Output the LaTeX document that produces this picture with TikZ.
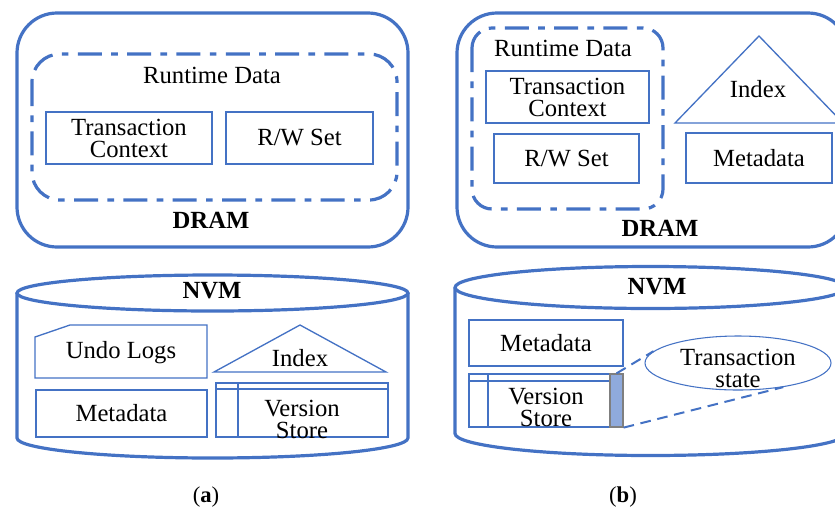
\documentclass[tikz,border=0pt]{standalone}
\usepackage{fontspec}
\setmainfont{Liberation Serif}
\usetikzlibrary{shapes.geometric}
\definecolor{ublue}{HTML}{4472C4}
\definecolor{barfill}{HTML}{8FAADC}
\definecolor{bargray}{HTML}{7F7F7F}
\begin{document}
\begin{tikzpicture}[x=0.75pt,y=-0.75pt,
  outer/.style={draw=ublue,line width=2.4pt,rounded corners=30pt},
  cyl/.style={draw=ublue,line width=2.4pt},
  dashdot/.style={draw=ublue,line width=2.4pt,dash pattern=on 18pt off 7pt on 5pt off 7pt},
  thin/.style={draw=ublue,line width=1pt},
  lbl/.style={font=\fontsize{18.5}{16.5}\selectfont,align=center,inner sep=0pt},
  blbl/.style={font=\fontsize{18.5}{16.5}\selectfont\bfseries,inner sep=0pt},
  boxn/.style={thin,rectangle,inner sep=0pt,minimum width=#1},
  captxt/.style={font=\fontsize{17}{18}\selectfont,inner sep=0pt},
  dlink/.style={draw=ublue,line width=1.5pt,dash pattern=on 8pt off 5pt}]
\useasboundingbox (0,0) rectangle (835,508);
\clip (0,0) rectangle (835,508);

% ================= (a) =================
\draw[outer] (17,13) rectangle (408,247);
\draw[dashdot,rounded corners=21pt] (32,54) rectangle (397,200);
\node[lbl] (rta) at (212,75) {Runtime Data};
\node[boxn=124.5pt,minimum height=39pt,lbl] (tca) at (129,138) {Transaction\\Context};
\node[boxn=110.25pt,minimum height=39pt,lbl] (rwa) at (299.5,138) {R/W Set};
\node[blbl] (drama) at (211,220) {DRAM};

% cylinder (a)
\draw[cyl] (17,293) -- (17,438) arc[start angle=180,end angle=360,x radius=146.6pt,y radius=15pt] -- (408,293);
\draw[cyl] (212.5,293) ellipse[x radius=146.6pt,y radius=13.5pt];
\node[blbl] (nvma) at (212,291) {NVM};

\draw[thin] (35,337) -- (70,325) -- (207,325) -- (207,378) -- (35,378) -- cycle;
\node[lbl] (undo) at (121,353) {Undo Logs};
\node[boxn=128.25pt,minimum height=35.25pt,lbl] (metaa) at (121.5,413.5) {Metadata};
\draw[thin] (214,372) -- (300,325) -- (386,372) -- cycle;
\node[lbl] (idxa) at (300,358) {Index};
\draw[thin,line width=1.2pt] (216,383) rectangle (388,437);
\draw[thin,line width=1.2pt] (216,389) -- (388,389);
\draw[thin,line width=1.2pt] (238,383) -- (238,437);
\node[lbl] (vsa) at (302,419) {Version\\Store};

\node[captxt] (capa) at (206,497) {(\textbf{a})};

% ================= (b) =================
\draw[outer] (457,13) rectangle (848,247);
\draw[dashdot,rounded corners=15pt] (472,28) rectangle (663,209);
\node[lbl] (rtb) at (563,48) {Runtime Data};
\node[boxn=122.25pt,minimum height=39pt,lbl] (tcb) at (567.5,97) {Transaction\\Context};
\node[boxn=108.75pt,minimum height=36.75pt,lbl] (rwb) at (566.5,158.5) {R/W Set};
\draw[thin] (675,123) -- (759,36) -- (843,123) -- cycle;
\node[lbl] (idxb) at (758,89) {Index};
\node[boxn=109.5pt,minimum height=37.5pt,lbl] (metab1) at (759,158) {Metadata};
\node[blbl] (dramb) at (660,228) {DRAM};

% cylinder (b)
\draw[cyl] (455,287.5) -- (455,433.5) arc[start angle=180,end angle=360,x radius=146.6pt,y radius=16.5pt] -- (846,287.5);
\draw[cyl] (650.5,287.5) ellipse[x radius=146.6pt,y radius=15.75pt];
\node[blbl] (nvmb) at (657,287) {NVM};

\node[boxn=115.5pt,minimum height=34.5pt,lbl] (metab2) at (546,343) {Metadata};
\draw[thin,line width=1.2pt] (469,374) rectangle (623,427);
\draw[thin,line width=1.2pt] (469,381) -- (623,381);
\draw[thin,line width=1.2pt] (488,374) -- (488,427);
\node[lbl] (vsb) at (546,407) {Version\\Store};
\node[draw=bargray,fill=barfill,line width=0.9pt,inner sep=0pt,minimum width=9.75pt,minimum height=39.75pt] (bar) at (616.5,400.5) {};

\node[ellipse,draw=ublue,line width=0.8pt,inner sep=0pt,minimum width=139.5pt,minimum height=40.5pt] (ts) at (738,363) {};
\node[lbl] (tstxt) at (738,368) {Transaction\\state};
\draw[dlink] (bar.north) -- (ts.172);
\draw[dlink] (bar.south east) -- (ts.-28);

\node[captxt] (capb) at (623,497) {(\textbf{b})};
\end{tikzpicture}
\end{document}
